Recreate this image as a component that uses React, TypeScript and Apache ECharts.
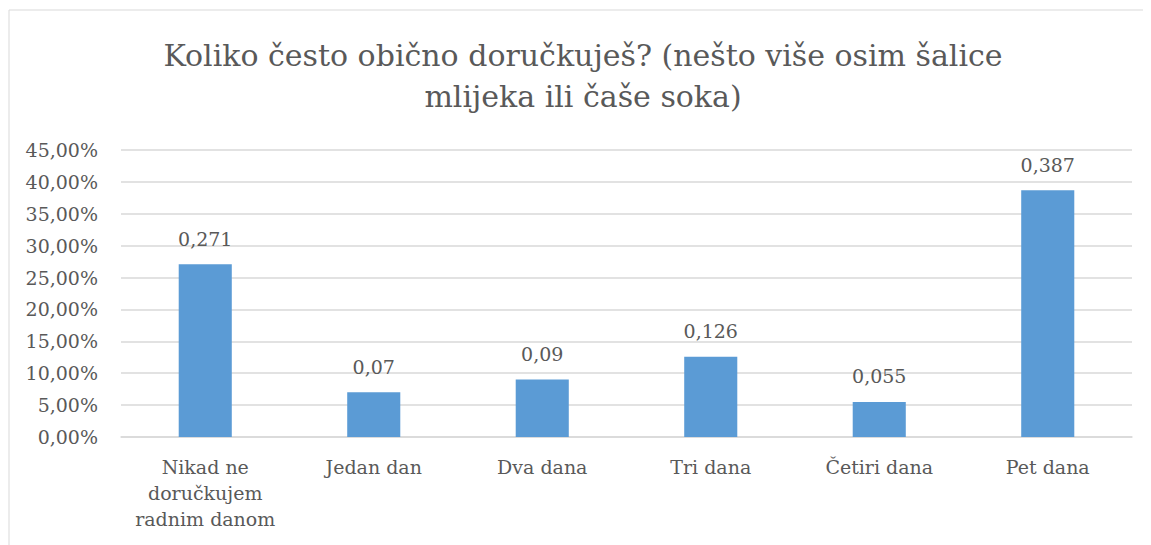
import React, { useEffect, useRef } from "react";
import * as echarts from "echarts";

const categories = ["Nikad ne\ndoručkujem\nradnim danom", "Jedan dan", "Dva dana", "Tri dana", "Četiri dana", "Pet dana"];
const values = [0.271, 0.07, 0.09, 0.126, 0.055, 0.387];
const titleText = "Koliko često obično doručkuješ? (nešto više osim šalice\nmlijeka ili čaše soka)";

const FONT = "DejaVu Serif";
const TEXT = "#595959";

export default function App() {
  const ref = useRef<HTMLDivElement>(null);
  useEffect(() => {
    if (!ref.current) return;
    const chart = echarts.init(ref.current, null, { renderer: "svg" });
    chart.setOption({
      animation: false,
      textStyle: { fontFamily: FONT },
      graphic: [
        {
          type: "rect",
          shape: { x: 1, y: 2, width: 1300, height: 700 },
          style: { fill: "none", stroke: "#d9d9d9", lineWidth: 1 },
          silent: true,
        },
        {
          type: "text",
          x: 575,
          y: 27,
          style: {
            text: titleText,
            textAlign: "center",
            fontFamily: FONT,
            fontSize: 30,
            lineHeight: 41,
            fill: TEXT,
          },
        },
      ],
      grid: { left: 113, right: 19, top: 142, bottom: 108, containLabel: false },
      xAxis: {
        type: "category",
        data: categories,
        axisLine: { show: true, lineStyle: { color: "#d9d9d9", width: 1.5 } },
        axisTick: { show: false },
        axisLabel: {
          color: TEXT,
          fontFamily: FONT,
          fontSize: 19,
          lineHeight: 26,
          margin: 17,
          interval: 0,
        },
      },
      yAxis: {
        type: "value",
        min: 0,
        max: 0.45,
        interval: 0.05,
        axisLine: { show: false },
        axisTick: { show: false },
        splitLine: { lineStyle: { color: "#d9d9d9", width: 1.5 } },
        axisLabel: {
          color: TEXT,
          fontFamily: FONT,
          fontSize: 19,
          margin: 23,
          formatter: (v: number) => (v * 100).toFixed(2).replace(".", ",") + "%",
        },
      },
      series: [
        {
          type: "bar",
          data: values,
          barWidth: "31.5%",
          itemStyle: { color: "#5b9bd5" },
          label: {
            show: true,
            position: "top",
            distance: 16,
            color: TEXT,
            fontFamily: FONT,
            fontSize: 19,
            formatter: (p: any) => String(p.value).replace(".", ","),
          },
        },
      ],
    });
    return () => chart.dispose();
  }, []);
  return (
    <div style={{ width: 1143, height: 537, overflow: "hidden" }}>
      <div ref={ref} style={{ width: 1143, height: 537 }} />
    </div>
  );
}
